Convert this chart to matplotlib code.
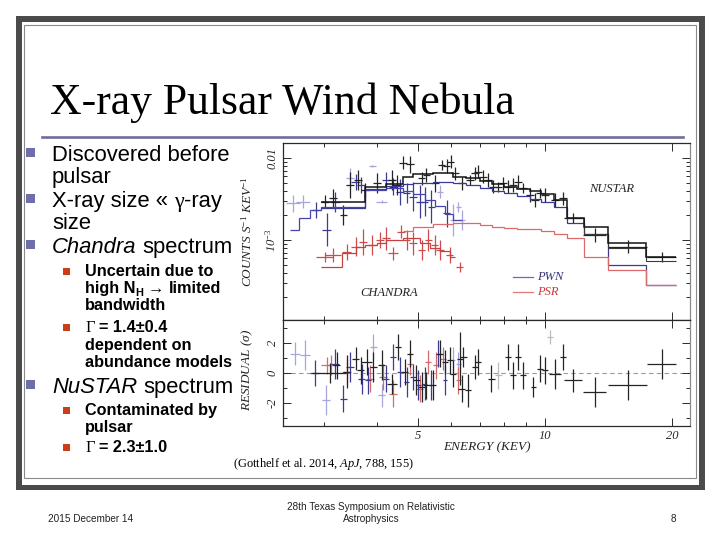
import numpy as np
import matplotlib
matplotlib.use('Agg')
import matplotlib.pyplot as plt
from matplotlib.patches import Rectangle
from matplotlib.lines import Line2D
from matplotlib.ticker import FixedLocator, NullFormatter, LogLocator

plt.rcParams.update({
    'font.family': 'Liberation Serif',
    'mathtext.fontset': 'custom',
    'mathtext.rm': 'Liberation Serif',
    'mathtext.it': 'Liberation Serif:italic',
    'mathtext.bf': 'Liberation Serif:bold',
})

# ---------------- data ----------------
# NuSTAR total model (two modules), PWN and PSR components: bin edges (keV) and counts/s/keV
nu_edges = [2.95, 3.75, 4.21, 4.61, 4.87, 5.43, 6.06, 6.5, 7.0, 7.5, 8.0, 8.6, 9.2, 9.8, 10.5, 11.3, 12.4, 14.1, 17.4, 20.4]
nu_total = [2.94e-3, 4.47e-3, 4.85e-3, 5.9e-3, 6.3e-3, 6.6e-3, 5.9e-3, 5.65e-3, 5.2e-3, 4.85e-3,
            4.47e-3, 4.2e-3, 3.95e-3, 3.6e-3, 3.1e-3, 1.84e-3, 1.46e-3, 9.1e-4, 6.2e-4]
nu_pwn = [2.44e-3, 4.2e-3, 4.5e-3, 4.8e-3, 5.0e-3, 5.1e-3, 5.0e-3, 4.7e-3, 4.3e-3, 4.0e-3,
          3.7e-3, 3.4e-3, 3.15e-3, 2.9e-3, 2.55e-3, 1.6e-3, 1.18e-3, 5.0e-4, 2.8e-4]
nub_edges = [11.3, 12.4, 14.1, 17.4, 20.4]
nub_total = [1.84e-3, 1.18e-3, 7.9e-4, 5.6e-4]
nupsr_edges = [4.61, 4.87, 5.43, 6.06, 6.5, 7.0, 7.5, 8.0, 8.6, 9.2, 9.8, 10.5, 11.3, 12.4, 14.1, 17.4, 20.4]
nu_psr = [1.3e-3, 1.45e-3, 1.55e-3, 1.6e-3, 1.6e-3, 1.52e-3, 1.46e-3, 1.42e-3, 1.38e-3, 1.35e-3,
          1.3e-3, 1.2e-3, 1.05e-3, 6.2e-4, 4.3e-4, 2.8e-4]

# Chandra models
chpwn_edges = [2.49, 2.62, 2.78, 2.95, 3.75, 4.21, 4.61, 4.87, 5.2, 5.5, 5.8, 6.06, 6.35]
ch_pwn = [1.33e-3, 1.84e-3, 2.32e-3, 2.55e-3, 4.1e-3, 4.3e-3, 4.0e-3, 3.6e-3, 3.1e-3, 2.6e-3, 2.1e-3, 1.75e-3]
chpsr_edges = [2.95, 3.30, 3.56, 3.75, 4.0, 4.21, 4.61, 5.05, 5.34, 5.64, 5.95, 6.12]
ch_psr = [4.7e-4, 6.9e-4, 8.3e-4, 8.8e-4, 9.2e-4, 1.0e-3, 1.05e-3, 9.2e-4, 7.9e-4, 7.3e-4, 6.2e-4]

# NuSTAR data: energy, counts, half error (dex), half bin width (keV)
nu_e = [3.01, 3.15, 3.33, 3.45, 3.61, 3.75, 4.00, 4.34, 4.45, 4.61, 4.79, 5.10, 5.24, 5.48, 5.69, 5.85,
        5.98, 6.12, 6.35, 6.64, 6.82, 6.95, 7.14, 7.34, 7.54, 7.75, 7.96, 8.18, 8.41, 8.65, 8.88, 9.21,
        9.47, 9.73, 10.0, 10.56, 11.05, 11.67, 13.14, 15.76, 18.91]
nu_c = [2.93e-3, 3.22e-3, 2.02e-3, 4.69e-3, 5.39e-3, 4.07e-3, 4.91e-3, 5.39e-3, 4.69e-3, 8.74e-3,
        8.34e-3, 5.65e-3, 6.2e-3, 4.91e-3, 8.14e-3, 8.0e-3, 9.0e-3, 6.5e-3, 4.91e-3, 5.39e-3, 6.5e-3,
        6.81e-3, 5.92e-3, 5.39e-3, 4.47e-3, 4.47e-3, 4.91e-3, 4.47e-3, 4.69e-3, 5.14e-3, 4.27e-3,
        3.54e-3, 3.08e-3, 3.71e-3, 3.54e-3, 3.08e-3, 3.22e-3, 1.84e-3, 1.15e-3, 8.3e-4, 6.26e-4]
nu_dex = [.08, .12, .12, .16, .12, .08, .12, .12, .12, .08, .10, .08, .08, .10, .06, .08, .08, .08,
          .08, .06, .08, .08, .08, .08, .08, .06, .08, .08, .08, .08, .06, .08, .08, .06, .08, .08,
          .08, .06, .08, .08, .06]
nu_xerr = [0.07, 0.07, 0.07, 0.08, 0.08, 0.08, 0.09, 0.1, 0.1, 0.1, 0.1, 0.11, 0.11, 0.12, 0.12, 0.12,
           0.12, 0.13, 0.13, 0.14, 0.14, 0.15, 0.15, 0.15, 0.16, 0.16, 0.17, 0.17, 0.18, 0.18, 0.19,
           0.19, 0.2, 0.2, 0.21, 0.22, 0.23, 0.55, 0.85, 1.65, 1.5]

# Chandra PWN data (two sets) and PSR data
cpa_e = [2.87, 3.04, 3.18, 3.56, 3.66, 4.21, 4.37, 4.53, 4.70, 4.87, 5.05, 5.19, 5.38, 5.85]
cpa_c = [2.32e-3, 1.33e-3, 2.93e-3, 5.14e-3, 4.69e-3, 5.39e-3, 4.47e-3, 3.88e-3, 3.71e-3, 3.38e-3,
         2.93e-3, 2.93e-3, 2.55e-3, 2.11e-3]
cpa_dex = [.10, .20, .12, .10, .10, .10, .10, .16, .12, .18, .20, .18, .20, .16]
cpa_xerr = [0.07, 0.07, 0.08, 0.08, 0.08, 0.09, 0.09, 0.1, 0.1, 0.1, 0.1, 0.1, 0.11, 0.11]
cpb_e = [2.53, 2.67, 3.45, 3.90, 4.10, 5.64, 6.06, 6.24, 6.35]
cpb_c = [2.8e-3, 2.93e-3, 5.65e-3, 8.0e-3, 2.93e-3, 3.88e-3, 1.75e-3, 2.55e-3, 1.75e-3]
cpb_dex = [.10, .08, .12, .01, .02, .08, .20, .06, .12]
cpb_xerr = [0.1, 0.1, 0.08, 0.08, 0.12, 0.1, 0.1, 0.1, 0.12]
cr_e = [3.01, 3.15, 3.39, 3.56, 3.71, 3.89, 4.06, 4.21, 4.37, 4.57, 4.70, 4.87, 5.10, 5.29, 5.48, 5.64, 5.95, 6.29]
cr_c = [6.26e-4, 6.56e-4, 7.2e-4, 8.3e-4, 9.55e-4, 8.7e-4, 1.0e-3, 1.05e-3, 6.88e-4, 1.26e-3, 1.0e-3,
        9.1e-4, 7.55e-4, 1.0e-3, 8.7e-4, 7.55e-4, 6.56e-4, 4.73e-4]
cr_dex = [.06, .08, .10, .12, .16, .12, .10, .14, .08, .08, .12, .14, .12, .14, .12, .12, .10, .06]
cr_xerr = [0.14, 0.13, 0.08, 0.08, 0.08, 0.09, 0.09, 0.09, 0.12, 0.1, 0.1, 0.1, 0.1, 0.1, 0.11, 0.11, 0.11, 0.12]

# residuals (sigma)
rn_e = [3.09, 3.21, 3.39, 3.56, 3.66, 3.78, 3.92, 4.10, 4.34, 4.49, 4.66, 4.79, 4.96, 5.10, 5.24, 5.43,
        5.64, 5.80, 5.95, 6.06, 6.29, 6.40, 6.35, 6.58, 6.82, 6.95, 7.47, 8.18, 8.41, 8.65, 8.88, 9.38,
        9.73, 10.0, 10.56, 11.05, 11.67, 13.14, 15.76, 18.91]
rn_s = [0.0, 0.51, 0.07, 0.96, 0.18, 0.73, 0.4, 0.51, -0.71, 1.73, 0.07, 1.29, -0.49, -0.93, -0.82,
        -0.82, 1.29, 0.73, 0.84, -0.04, 0.96, 1.07, -1.04, -1.16, 0.4, 0.73, -0.38, 1.07, -0.16, 1.07,
        -0.16, -0.93, 0.29, 0.18, -0.04, 1.07, -0.49, -1.27, -0.82, 0.62]
rn_err = [.67, .89, 1.1, .78, .89, .89, 1.0, 1.0, .67, .89, .89, .89, 1.0, 1.0, .89, 1.0, .89, .78, .89,
          .89, 1.78, .67, .89, 1.1, .78, .89, .89, .89, .89, .89, .89, .67, .89, .89, 1.0, .89, .78,
          1.0, 1.0, 1.0]
rn_xerr = [0.28, 0.06, 0.06, 0.07, 0.07, 0.12, 0.07, 0.08, 0.12, 0.08, 0.08, 0.08, 0.09, 0.09, 0.09,
           0.1, 0.1, 0.1, 0.1, 0.1, 0.11, 0.12, 0.11, 0.11, 0.12, 0.12, 0.13, 0.14, 0.14, 0.15, 0.15,
           0.12, 0.16, 0.17, 0.35, 0.18, 0.55, 0.85, 1.65, 1.5]
rnb_e = [7.75, 10.28]
rnb_s = [-0.16, 2.4]
rnb_err = [0.89, 0.45]
rpa_e = [2.85, 3.18, 3.33, 3.45, 3.68, 3.81, 4.21, 4.37, 4.53, 4.70, 4.87, 5.01, 5.19, 5.38, 5.59, 5.80]
rpa_s = [0.0, 0.62, -1.71, 0.4, -0.38, -0.49, -0.38, 1.07, 0.07, -0.6, -0.27, -0.82, -0.71, -0.82, 1.29, -0.49]
rpa_err = [.89, 1.0, .89, 1.0, 1.0, .89, .89, .89, 1.0, 1.0, .89, 1.0, 1.1, 1.0, .89, 1.0]
rpb_e = [2.56, 2.70, 3.03, 3.92, 4.10, 6.06, 6.24]
rpb_s = [1.29, 1.18, -1.82, 1.73, -1.49, 0.84, 0.62]
rpb_err = [.78, 1.0, 1.0, .89, .78, .89, .78]
rr_e = [3.04, 3.12, 3.39, 3.85, 4.14, 4.37, 4.79, 5.05, 5.29, 5.53, 5.74, 6.24]
rr_s = [0.51, 0.51, 0.07, -0.38, -0.27, -1.38, 0.62, -1.04, 0.73, 0.51, 0.96, -0.49]
rr_err = [0.56, 0.67, 0.89, 0.89, 0.89, 0.89, 0.78, 0.89, 0.78, 0.89, 0.78, 0.89]

x_ticks = [5, 10, 20]
x_ticklabels = ['5', '10', '20']

# ---------------- figure ----------------
W, H = 720, 540
fig = plt.figure(figsize=(7.2, 5.4), dpi=100)
fig.patch.set_facecolor('white')


def fx(x):
    return x / W


def fy(y):
    return 1 - y / H


def frect(x0, y0, x1, y1, **kw):
    fig.patches.append(Rectangle((fx(x0), fy(y1)), (x1 - x0) / W, (y1 - y0) / H,
                                 transform=fig.transFigure, **kw))


# slide frame
frect(16, 16, 705, 490, facecolor='#4b4b4b', edgecolor='none', zorder=-5)
frect(22, 22, 699, 485, facecolor='white', edgecolor='none', zorder=-4)
frect(24.5, 24.5, 696, 478, facecolor='none', edgecolor='#8a8a8a', lw=0.8, zorder=-3)

# title
fig.text(fx(50), fy(114), 'X-ray Pulsar Wind Nebula', fontsize=31.5, family='Liberation Serif',
         va='baseline', ha='left', color='black')
fig.lines.append(Line2D([fx(42), fx(683)], [fy(137), fy(137)], transform=fig.transFigure,
                        color='#6e6e9a', lw=1.9))

# bullets
SANS = 'Liberation Sans'
SERIF = 'Liberation Serif'
R = fig.canvas.get_renderer()


def rich(x, y, parts, size, weight):
    px = size * 100 / 72
    for txt, opts in parts:
        if txt == ' ':
            x += 0.278 * px
            continue
        t = fig.text(fx(x), fy(y + opts.get('dy', 0)), txt, family=opts.get('family', SANS),
                     style=opts.get('style', 'normal'), weight=opts.get('weight', weight),
                     fontsize=size * opts.get('scale', 1), va='baseline', ha='left', color='black')
        x += t.get_window_extent(renderer=R).width


main_lines = [
    (161, [('Discovered before', {})], True),
    (183, [('pulsar', {})], False),
    (207, [('X-ray size «', {}), (' ', {}), ('γ', {'family': SERIF}), ('-ray', {})], True),
    (229, [('size', {})], False),
    (253, [('Chandra', {'style': 'italic'}), (' ', {}), ('spectrum', {})], True),
    (393, [('NuSTAR', {'style': 'italic'}), (' ', {}), ('spectrum', {})], True),
]
sub_lines = [
    (276, [('Uncertain due to', {})], True),
    (293, [('high N', {}), ('H', {'scale': 0.68, 'dy': 2.5}), (' ', {}),
           ('→', {'family': SERIF, 'weight': 'normal'}), (' ', {}), ('limited', {})], False),
    (310, [('bandwidth', {})], False),
    (332, [('Γ', {'family': SERIF, 'weight': 'normal'}), (' ', {}), ('= 1.4±0.4', {})], True),
    (350, [('dependent on', {})], False),
    (367, [('abundance models', {})], False),
    (415, [('Contaminated by', {})], True),
    (432, [('pulsar', {})], False),
    (452, [('Γ', {'family': SERIF, 'weight': 'normal'}), (' ', {}), ('= 2.3±1.0', {})], True),
]
for b, parts, bul in main_lines:
    rich(52, b, parts, 15.8, 'normal')
    if bul:
        frect(26, b - 13, 35, b - 4, facecolor='#6e6eaa', edgecolor='none')
for b, parts, bul in sub_lines:
    rich(85, b, parts, 11.7, 'bold')
    if bul:
        frect(63, b - 8.5, 70, b - 1.5, facecolor='#c8401a', edgecolor='none')

# ---------------- spectrum plot ----------------
ax = fig.add_axes([fx(283), fy(320), 407 / W, 177 / H])
axr = fig.add_axes([fx(283), fy(426), 407 / W, 106 / H])
for a in (ax, axr):
    a.set_xscale('log')
    a.set_xlim(2.395, 22.07)
    a.xaxis.set_major_locator(FixedLocator(x_ticks))
    a.xaxis.set_minor_locator(FixedLocator([3, 4, 6, 7, 8, 9]))
    a.xaxis.set_minor_formatter(NullFormatter())
    a.tick_params(which='both', direction='in', top=True, right=True, colors='#2a2a2a',
                  width=0.7, labelsize=9)
    a.tick_params(which='major', length=5.5)
    a.tick_params(which='minor', length=2.8)
    for s in a.spines.values():
        s.set_linewidth(0.9)
        s.set_color('#2a2a2a')
    a.spines['right'].set_color('#8a8a8a')

ax.set_yscale('log')
ax.set_ylim(1.058e-4, 0.01524)
ax.set_xticklabels([])
ax.yaxis.set_major_locator(FixedLocator([1e-3, 1e-2]))
ax.yaxis.set_minor_locator(LogLocator(subs=np.arange(2, 10)))
ax.yaxis.set_minor_formatter(NullFormatter())
ax.set_yticks([1e-3, 1e-2], ['10$^{-3}$', '0.01'], rotation=90, va='center', style='italic')
ax.tick_params(axis='y', pad=3)


def lerr(c, d):
    c = np.asarray(c)
    d = np.asarray(d)
    return [c - c / 10 ** d, c * 10 ** d - c]


# data
ax.errorbar(cpb_e, cpb_c, yerr=lerr(cpb_c, cpb_dex), xerr=cpb_xerr, fmt='none', ecolor='#a6a6da',
            elinewidth=0.9, capsize=0, zorder=2)
ax.errorbar(cr_e, cr_c, yerr=lerr(cr_c, cr_dex), xerr=cr_xerr, fmt='none', ecolor='#cc4c4c',
            elinewidth=0.9, capsize=0, zorder=3)
ax.errorbar(cpa_e, cpa_c, yerr=lerr(cpa_c, cpa_dex), xerr=cpa_xerr, fmt='none', ecolor='#3c3c92',
            elinewidth=0.9, capsize=0, zorder=3)
ax.errorbar(nu_e, nu_c, yerr=lerr(nu_c, nu_dex), xerr=nu_xerr, fmt='none', ecolor='#242424',
            elinewidth=0.9, capsize=0, zorder=4)

# models
ax.stairs(ch_pwn, chpwn_edges, baseline=None, color='#4646ae', lw=0.9, zorder=5)
ax.stairs(ch_psr, chpsr_edges, baseline=None, color='#c84040', lw=0.9, zorder=5)
ax.stairs(nu_pwn, nu_edges, baseline=None, color='#3a3a96', lw=0.9, zorder=5)
ax.stairs(nu_psr, nupsr_edges, baseline=None, color='#dc6a6a', lw=0.9, zorder=5)
ax.stairs(nub_total, nub_edges, baseline=None, color='#3a3a3a', lw=0.8, zorder=5)
ax.stairs(nu_total, nu_edges, baseline=None, color='#141414', lw=1.1, zorder=6)

# labels inside plot
ax.text(0.808, 0.740, 'NUSTAR', transform=ax.transAxes, ha='center', va='center',
        style='italic', fontsize=9, color='#222222')
ax.text(0.260, 0.153, 'CHANDRA', transform=ax.transAxes, ha='center', va='center',
        style='italic', fontsize=9, color='#222222')
ax.plot([0.566, 0.615], [0.243, 0.243], transform=ax.transAxes, color='#6a6ac0', lw=0.9)
ax.plot([0.566, 0.615], [0.158, 0.158], transform=ax.transAxes, color='#e07878', lw=0.9)
ax.text(0.624, 0.243, 'PWN', transform=ax.transAxes, ha='left', va='center',
        style='italic', fontsize=9, color='#36367e')
ax.text(0.624, 0.158, 'PSR', transform=ax.transAxes, ha='left', va='center',
        style='italic', fontsize=9, color='#c83a3a')

# residual panel
axr.set_ylim(-3.53, 3.53)
axr.yaxis.set_minor_locator(FixedLocator([-3, -1, 1, 3]))
axr.set_yticks([-2, 0, 2], ['-2', '0', '2'], rotation=90, va='center', style='italic')
axr.set_xticks(x_ticks, x_ticklabels, style='italic')
axr.tick_params(axis='y', pad=3)
axr.tick_params(axis='x', pad=3)
axr.axhline(0, color='#9a9a9a', lw=0.8, ls=(0, (4, 3)), zorder=1)
axr.errorbar(rpb_e, rpb_s, yerr=rpb_err, xerr=0.07, fmt='none', ecolor='#a6a6da', elinewidth=0.9,
             capsize=0, zorder=2)
axr.errorbar(rnb_e, rnb_s, yerr=rnb_err, xerr=0.15, fmt='none', ecolor='#bdbdbd', elinewidth=0.9,
             capsize=0, zorder=2)
axr.errorbar(rr_e, rr_s, yerr=rr_err, xerr=0.09, fmt='none', ecolor='#d46a6a', elinewidth=0.9,
             capsize=0, zorder=3)
axr.errorbar(rpa_e, rpa_s, yerr=rpa_err, xerr=0.07, fmt='none', ecolor='#3c3c92', elinewidth=0.9,
             capsize=0, zorder=3)
axr.errorbar(rn_e, rn_s, yerr=rn_err, xerr=rn_xerr, fmt='none', ecolor='#242424', elinewidth=0.9,
             capsize=0, zorder=4)

# axis titles
fig.text(fx(247), fy(232), 'COUNTS S$^{-1}$ KEV$^{-1}$', rotation=90, ha='center', va='center',
         style='italic', fontsize=9.5, color='#222222')
fig.text(fx(247), fy(370), 'RESIDUAL ($\\sigma$)', rotation=90, ha='center', va='center',
         style='italic', fontsize=9.5, color='#222222')
fig.text(fx(487), fy(447), 'ENERGY (KEV)', ha='center', va='center', style='italic',
         fontsize=9.5, color='#222222')

# citation
fig.text(fx(233), fy(467), '(Gotthelf et al. 2014, $\\mathit{ApJ}$, 788, 155)', ha='left',
         va='baseline', fontsize=8.9, color='black')

# footer
FOOT = ['Liberation Sans Narrow', 'Liberation Sans']
fig.text(fx(48), fy(522), '2015 December 14', family=FOOT, fontsize=7.2, ha='left', va='baseline',
         color='#222222')
fig.text(fx(371), fy(510), '28th Texas Symposium on Relativistic', family=FOOT, fontsize=7.2,
         ha='center', va='baseline', color='#222222')
fig.text(fx(371), fy(522), 'Astrophysics', family=FOOT, fontsize=7.2, ha='center', va='baseline',
         color='#222222')
fig.text(fx(673), fy(522), '8', family=FOOT, fontsize=7.2, ha='center', va='baseline',
         color='#222222')

fig.savefig('out.png', dpi=100)
